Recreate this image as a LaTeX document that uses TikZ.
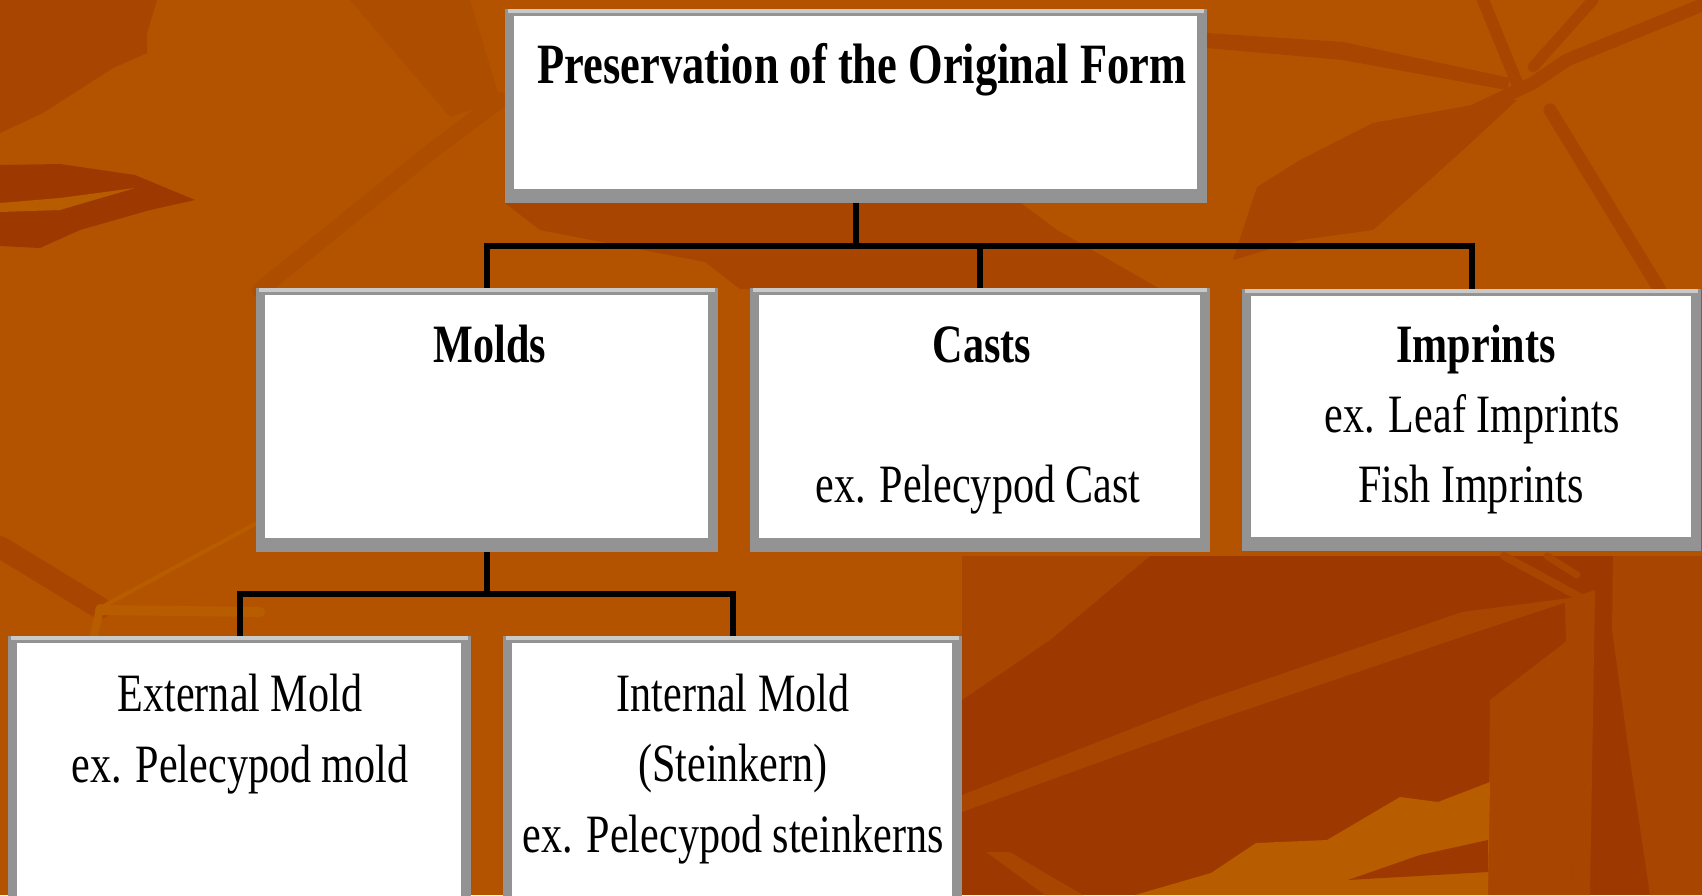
\documentclass[tikz,border=0pt]{standalone}
\usepackage{fontspec}
\setmainfont{Liberation Serif}[FakeStretch=0.78]
\usetikzlibrary{calc}
\definecolor{bgorange}{HTML}{B35300}
\definecolor{bgdark}{HTML}{9D3900}
\definecolor{bgmid}{HTML}{A84500}
\definecolor{bgsoft}{HTML}{AD4D00}
\definecolor{bglight}{HTML}{B85C00}
\definecolor{framegray}{HTML}{939393}
\definecolor{framelight}{HTML}{C9C9C9}
\tikzset{
  outerbox/.style={fill=framegray, draw=none, inner sep=0pt, outer sep=0pt, anchor=north west},
  conn/.style={draw=black, line width=6pt, line join=miter},
  txt/.style={anchor=base, inner sep=0pt, text=black, font=\fontsize{54}{60}\selectfont},
  ttl/.style={anchor=base, inner sep=0pt, text=black, font=\fontsize{54}{60}\selectfont\bfseries},
  big/.style={anchor=base, inner sep=0pt, text=black, font=\fontsize{57}{64}\selectfont\bfseries},
  vein/.style={line cap=round, line join=round},
}
% name, L, T, R, B
\newcommand{\fossilbox}[5]{%
  \node[outerbox, minimum width={#4-#2}, minimum height={#5-#3}] (#1) at (#2,#3) {};
  \fill[framelight] (#2+3,#3) rectangle (#4-3,#3+4);
  \fill[white] (#2+9,#3+7) rectangle (#4-10,#5-14);
}
\begin{document}
\begin{tikzpicture}[x=1pt,y=-1pt]
\useasboundingbox (0,0) rectangle (1702,895);
\clip (0,0) rectangle (1702,895);
% ---------- background ----------
\fill[bgorange] (0,0) rectangle (1702,895);
% top-left
\fill[bgmid] (0,0) -- (157,0) -- (147,33) -- (147,53) -- (113,68) -- (43,113) -- (0,133) -- cycle;
\fill[bgdark] (0,165) -- (60,164) -- (135,175) -- (195,200) -- (150,210) -- (80,230) -- (40,248) -- (0,246) -- cycle;
\fill[bglight] (0,203) -- (60,198) -- (135,188) -- (60,210) -- (0,212) -- cycle;
\draw[bgsoft, vein, line width=16pt] (260,290) -- (433,150) -- (500,100);
\fill[bgsoft] (350,0) -- (470,0) -- (500,100) -- (450,117) -- cycle;
% left lower
\draw[bgmid, vein, line width=22pt] (0,547) -- (100,608);
\draw[bglight, vein, line width=4pt] (100,608) -- (257,523);
\draw[bglight, vein, line width=10pt] (100,610) -- (260,612);
\draw[bglight, vein, line width=8pt] (100,608) -- (93,640);
% middle under title
\fill[bgmid] (505,203) -- (1021,203) -- (1057,230) -- (1160,289) -- (740,289) -- (705,262) -- (540,230) -- cycle;
% top-right
\fill[bgmid] (1233,260) -- (1257,187) -- (1300,160) -- (1373,123) -- (1500,100) -- (1517,100) -- (1463,150) -- (1433,177) -- (1373,230) -- (1300,240) -- cycle;
\fill[bgmid] (1207,33) -- (1343,42) -- (1510,78) -- (1507,90) -- (1343,60) -- (1207,48) -- cycle;
\draw[bgmid, vein, line width=13pt] (1343,173) -- (1533,83) -- (1567,60) -- (1702,5);
\draw[bgmid, vein, line width=12pt] (1483,0) -- (1517,83);
\draw[bgmid, vein, line width=11pt] (1593,0) -- (1533,67);
\draw[bgmid, vein, line width=13pt] (1550,110) -- (1660,290);
% bottom-right
\fill[bgdark] (962,556) -- (1702,556) -- (1702,895) -- (962,895) -- cycle;
\fill[bgmid] (962,556) -- (1150,556) -- (1050,640) -- (962,700) -- cycle;
\fill[bgmid] (962,795) -- (1200,702) -- (1462,612) -- (1585,596) -- (1470,634) -- (1210,722) -- (962,812) -- cycle;
\draw[bgmid, vein, line width=8pt] (1504,556) -- (1585,600);
\draw[bgmid, vein, line width=7pt] (1547,556) -- (1577,575);
\fill[bgmid] (1565,600) -- (1595,590) -- (1590,895) -- (1572,895) -- cycle;
\fill[bgmid] (1613,556) -- (1702,556) -- (1702,895) -- (1650,895) -- (1630,760) -- (1612,630) -- cycle;
\fill[bgmid] (1490,700) -- (1568,640) -- (1572,895) -- (1488,895) -- cycle;
\fill[bglight] (1135,895) -- (1211,873) -- (1256,843) -- (1327,840) -- (1400,797) -- (1438,802) -- (1490,782) -- (1488,895) -- cycle;
\fill[bgdark] (1348,880) -- (1420,855) -- (1488,840) -- (1488,872) -- cycle;
\fill[bgmid] (986,852) -- (1010,852) -- (1045,873) -- (1083,895) -- (1045,895) -- cycle;
% ---------- boxes ----------
\fossilbox{top}{505}{9}{1207}{203}
\fossilbox{molds}{256}{288}{718}{552}
\fossilbox{casts}{750}{288}{1210}{552}
\fossilbox{imprints}{1242}{289}{1701}{551}
\fossilbox{external}{8}{636}{471}{910}
\fossilbox{internal}{503}{636}{962}{910}
% ---------- connectors ----------
\coordinate (bus1) at ($(top.south)+(0,42.5)$);
\coordinate (bus2) at ($(molds.south)+(0,42)$);
\draw[conn] (top.south) -- (bus1);
\draw[conn] (molds.north) |- (bus1) -| (imprints.north);
\draw[conn] (casts.north) -- (casts.north |- bus1);
\draw[conn] (molds.south) -- (bus2);
\draw[conn] (external.north) |- (bus2) -| (internal.north);
% ---------- texts ----------
\node[big] (t0) at (862,83) {Preservation of the Original Form};
\node[ttl] (t1) at (490,362) {Molds};
\node[ttl] (t2) at (982,362) {Casts};
\node[txt] (t2b) at (978,502) {ex. Pelecypod Cast};
\node[ttl] (t3) at (1476,362) {Imprints};
\node[txt] (t3b) at (1472,432) {ex. Leaf Imprints};
\node[txt] (t3c) at (1471,502) {Fish Imprints};
\node[txt] (t4) at (240,711) {External Mold};
\node[txt] (t4b) at (240,782) {ex. Pelecypod mold};
\node[txt] (t5) at (733,711) {Internal Mold};
\node[txt] (t5b) at (733,781) {(Steinkern)};
\node[txt] (t5c) at (733,852) {ex. Pelecypod steinkerns};
\end{tikzpicture}
\end{document}
